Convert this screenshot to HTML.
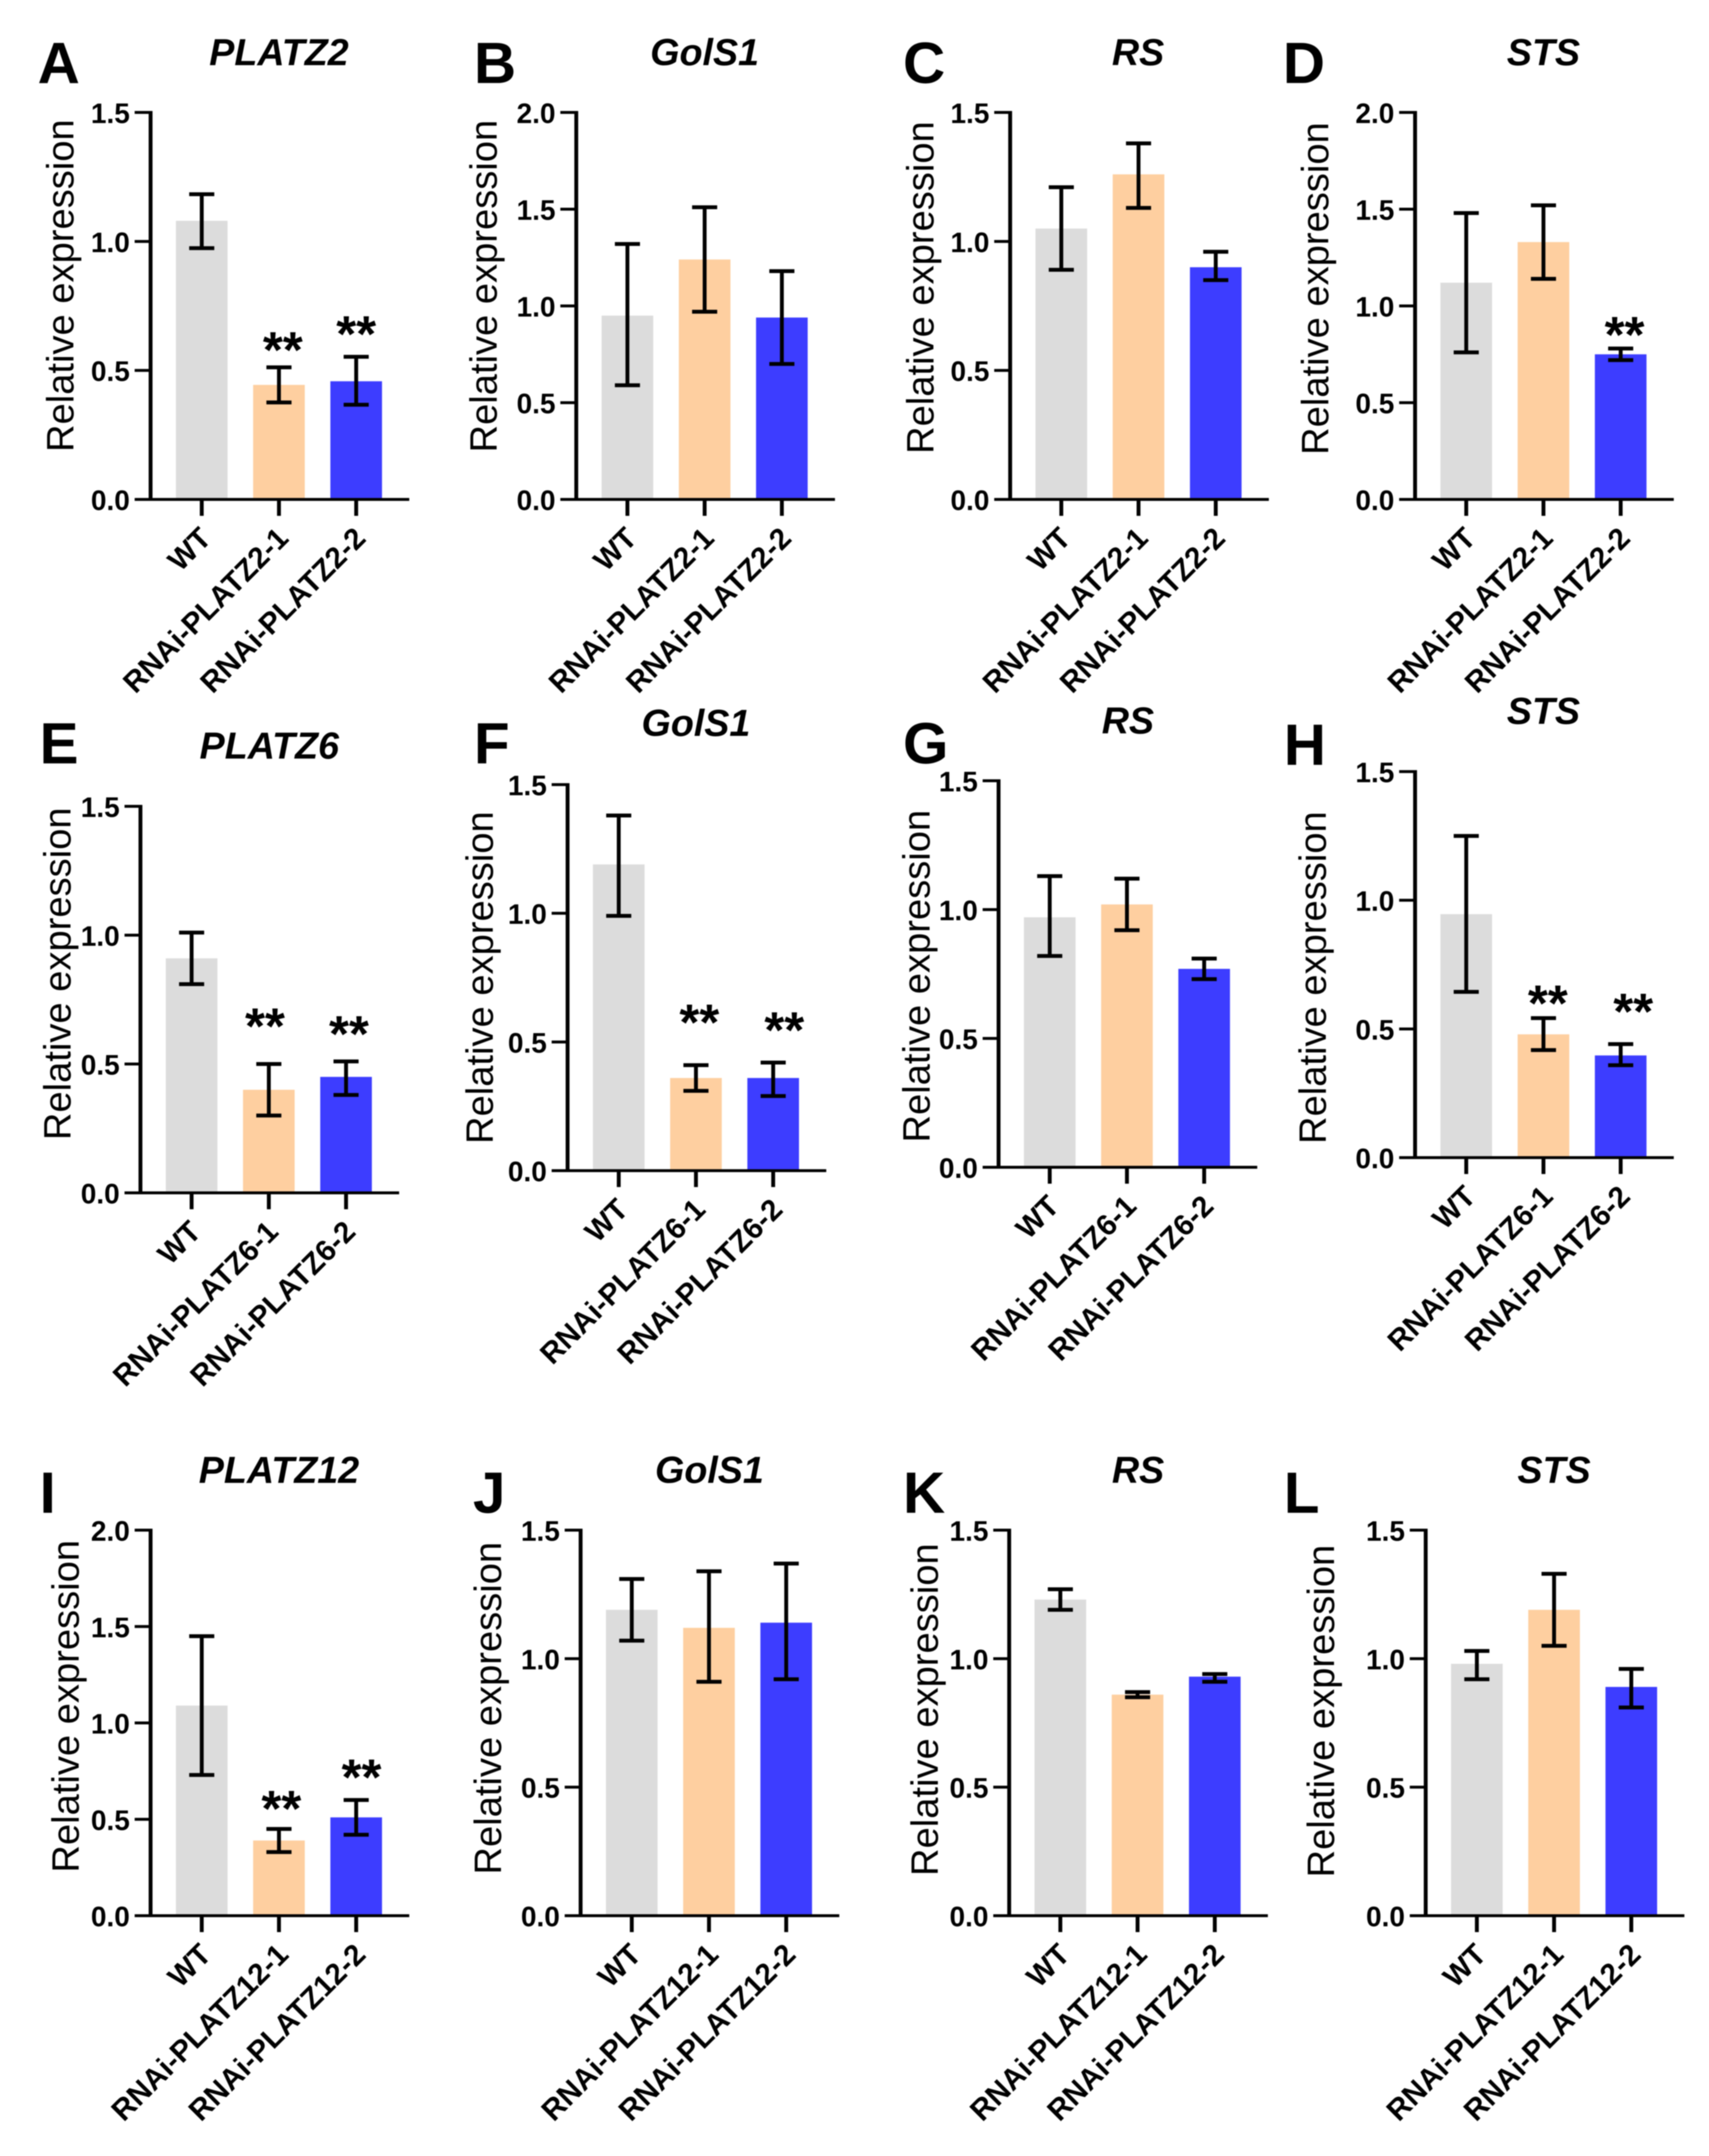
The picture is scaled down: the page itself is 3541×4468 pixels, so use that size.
<!DOCTYPE html>
<html lang="en">
<head>
<meta charset="utf-8">
<title>Relative expression bar charts</title>
<style>
html,body{margin:0;padding:0;background:#fff;}
svg{display:block;font-family:"Liberation Sans",Arial,sans-serif;filter:blur(1px);}
</style>
</head>
<body>
<svg id="figure" xmlns="http://www.w3.org/2000/svg" width="3541" height="4468" viewBox="0 0 3541 4468"></svg>
<script>
const labels2 = ['WT', 'RNAi-PLATZ2-1', 'RNAi-PLATZ2-2'];
const labels6 = ['WT', 'RNAi-PLATZ6-1', 'RNAi-PLATZ6-2'];
const labels12 = ['WT', 'RNAi-PLATZ12-1', 'RNAi-PLATZ12-2'];
const ticks15 = ['0.0', '0.5', '1.0', '1.5'];
const ticks20 = ['0.0', '0.5', '1.0', '1.5', '2.0'];

const meanA = [1.08, 0.444, 0.458], lowA = [0.974, 0.376, 0.367], highA = [1.183, 0.512, 0.553], starA = [null, 0.629, 0.691];
const meanB = [0.95, 1.24, 0.94], lowB = [0.59, 0.97, 0.70], highB = [1.32, 1.51, 1.18], starB = [null, null, null];
const meanC = [1.05, 1.26, 0.90], lowC = [0.89, 1.13, 0.85], highC = [1.21, 1.38, 0.96], starC = [null, null, null];
const meanD = [1.12, 1.33, 0.75], lowD = [0.76, 1.14, 0.72], highD = [1.48, 1.52, 0.78], starD = [null, null, 0.918];
const meanE = [0.91, 0.40, 0.45], lowE = [0.81, 0.30, 0.38], highE = [1.01, 0.50, 0.51], starE = [null, 0.697, 0.667];
const meanF = [1.19, 0.36, 0.36], lowF = [0.99, 0.31, 0.29], highF = [1.38, 0.41, 0.42], starF = [null, 0.626, 0.596];
const meanG = [0.97, 1.02, 0.77], lowG = [0.82, 0.92, 0.73], highG = [1.13, 1.12, 0.81], starG = [null, null, null];
const meanH = [0.946, 0.479, 0.397], lowH = [0.644, 0.418, 0.359], highH = [1.25, 0.542, 0.441], starH = [null, 0.65, 0.618];
const meanI = [1.09, 0.39, 0.51], lowI = [0.73, 0.33, 0.42], highI = [1.45, 0.45, 0.60], starI = [null, 0.622, 0.785];
const meanJ = [1.19, 1.12, 1.14], lowJ = [1.07, 0.91, 0.92], highJ = [1.31, 1.34, 1.37], starJ = [null, null, null];
const meanK = [1.23, 0.86, 0.93], lowK = [1.19, 0.85, 0.91], highK = [1.27, 0.87, 0.94], starK = [null, null, null];
const meanL = [0.98, 1.19, 0.89], lowL = [0.92, 1.05, 0.81], highL = [1.03, 1.33, 0.96], starL = [null, null, null];

const panels = [
 {k:'A',title:'PLATZ2', ax:312, top:233, base:1035,labels:labels2, ticks:ticks15,mean:meanA,low:lowA,high:highA,star:starA,shift:[0,8,0],   lx:78,  ly:172, ty:135, tx:578,  yl:152,  yc:592},
 {k:'B',title:'GolS1',  ax:1194,top:233, base:1035,labels:labels2, ticks:ticks20,mean:meanB,low:lowB,high:highB,star:starB,shift:[0,0,0],   lx:982, ly:172, ty:135, tx:1460, yl:1029, yc:593},
 {k:'C',title:'RS',     ax:2093,top:233, base:1035,labels:labels2, ticks:ticks15,mean:meanC,low:lowC,high:highC,star:starC,shift:[0,0,0],   lx:1871,ly:172, ty:135, tx:2358, yl:1934, yc:596},
 {k:'D',title:'STS',    ax:2932,top:233, base:1035,labels:labels2, ticks:ticks20,mean:meanD,low:lowD,high:highD,star:starD,shift:[0,0,8],   lx:2658,ly:172, ty:135, tx:3198, yl:2752, yc:598},
 {k:'E',title:'PLATZ6', ax:291, top:1671,base:2472,labels:labels6, ticks:ticks15,mean:meanE,low:lowE,high:highE,star:starE,shift:[0,-8,6],  lx:82,  ly:1582,ty:1572,tx:558,  yl:146,  yc:2018},
 {k:'F',title:'GolS1',  ax:1176,top:1626,base:2426,labels:labels6, ticks:ticks15,mean:meanF,low:lowF,high:highF,star:starF,shift:[0,7,23],  lx:982, ly:1582,ty:1525,tx:1442, yl:1021, yc:2026},
 {k:'G',title:'RS',     ax:2069,top:1618,base:2419,labels:labels6, ticks:ticks15,mean:meanG,low:lowG,high:highG,star:starG,shift:[0,0,0],   lx:1871,ly:1582,ty:1520,tx:2337, yl:1926, yc:2023},
 {k:'H',title:'STS',    ax:2932,top:1599,base:2399,labels:labels6, ticks:ticks15,mean:meanH,low:lowH,high:highH,star:starH,shift:[0,9,26],  lx:2660,ly:1585,ty:1500,tx:3198, yl:2747, yc:2026},
 {k:'I',title:'PLATZ12',ax:312, top:3171,base:3970,labels:labels12,ticks:ticks20,mean:meanI,low:lowI,high:highI,star:starI,shift:[0,5,11],  lx:82,  ly:3135,ty:3073,tx:578,  yl:163,  yc:3536},
 {k:'J',title:'GolS1',  ax:1203,top:3171,base:3970,labels:labels12,ticks:ticks15,mean:meanJ,low:lowJ,high:highJ,star:starJ,shift:[0,0,0],   lx:980, ly:3135,ty:3073,tx:1470, yl:1038, yc:3540},
 {k:'K',title:'RS',     ax:2091,top:3171,base:3970,labels:labels12,ticks:ticks15,mean:meanK,low:lowK,high:highK,star:starK,shift:[0,0,0],   lx:1871,ly:3135,ty:3073,tx:2358, yl:1943, yc:3543},
 {k:'L',title:'STS',    ax:2954,top:3171,base:3970,labels:labels12,ticks:ticks15,mean:meanL,low:lowL,high:highL,star:starL,shift:[0,0,0],   lx:2660,ly:3135,ty:3073,tx:3220, yl:2764, yc:3546}
];

const colors = ['#dcdcdc', '#fecfa0', '#3d3dff'];
const barNames = ['wt', 'line-1', 'line-2'];
const NS = 'http://www.w3.org/2000/svg';
const svg = document.getElementById('figure');

function make(tag, parent, attrs, text) {
  const el = document.createElementNS(NS, tag);
  for (const a in attrs) el.setAttribute(a, attrs[a]);
  if (text !== undefined) el.textContent = text;
  parent.appendChild(el);
  return el;
}

function drawPanel(p) {
  const id = p.k.toLowerCase();
  const maxV = parseFloat(p.ticks[p.ticks.length - 1]);
  const y = v => p.base - (v / maxV) * (p.base - p.top);
  const x = i => p.ax + 106 + 160 * i;

  const g = make('g', svg, {});
  
  

  const letter = make('text', g, {x: p.lx, y: p.ly, 'font-size': 121, 'font-weight': 'bold', fill: '#000'}, p.k);
  
  

  const title = make('text', g, {x: p.tx, y: p.ty, 'font-size': 78, 'font-weight': 'bold', 'font-style': 'italic', 'text-anchor': 'middle', fill: '#000'}, p.title);
  
  

  const yTitle = make('text', g, {transform: 'translate(' + p.yl + ',' + p.yc + ') rotate(-90)', 'font-size': 79, 'text-anchor': 'middle', fill: '#000'}, 'Relative expression');
  
  

  p.mean.forEach((m, i) => {
    const bar = make('rect', g, {x: x(i) - 53.5, y: y(m), width: 107, height: p.base - y(m), fill: colors[i]});
    
    
  });

  p.mean.forEach((m, i) => {
    const err = make('path', g, {d: 'M' + x(i) + ' ' + y(p.low[i]) + 'V' + y(p.high[i]) + 'M' + (x(i) - 26) + ' ' + y(p.low[i]) + 'h52M' + (x(i) - 26) + ' ' + y(p.high[i]) + 'h52', stroke: '#000', 'stroke-width': 8, fill: 'none'});
    
    
  });

  p.star.forEach((s, i) => {
    if (s === null) return;
    const st = make('text', g, {x: x(i) + p.shift[i], y: y(s) + 63, 'font-size': 106, 'font-weight': 'bold', 'text-anchor': 'middle', fill: '#000'}, '**');
    
    
  });

  const yAxis = make('line', g, {x1: p.ax, x2: p.ax, y1: p.top - 3, y2: p.base + 3, stroke: '#000', 'stroke-width': 8});
  
  

  const xAxis = make('line', g, {x1: p.ax - 33, x2: p.ax + 536, y1: p.base, y2: p.base, stroke: '#000', 'stroke-width': 6});
  
  

  p.ticks.forEach(t => {
    const v = parseFloat(t);
    const tick = make('line', g, {x1: p.ax - 33, x2: p.ax, y1: y(v), y2: y(v), stroke: '#000', 'stroke-width': 6});
    
    
    const lab = make('text', g, {x: p.ax - 43, y: y(v) + 22, 'font-size': 58, 'font-weight': 'bold', 'text-anchor': 'end', fill: '#000'}, t);
    
    
  });

  p.labels.forEach((l, i) => {
    const tick = make('line', g, {x1: x(i), x2: x(i), y1: p.base, y2: p.base + 34, stroke: '#000', 'stroke-width': 8});
    
    
    const lab = make('text', g, {transform: 'translate(' + (x(i) + 23) + ',' + (p.base + 84) + ') rotate(-45)', 'font-size': 61.5, 'font-weight': 'bold', 'text-anchor': 'end', fill: '#000'}, l);
    
    
  });
}

panels.forEach(drawPanel);
</script>
</body>
</html>
